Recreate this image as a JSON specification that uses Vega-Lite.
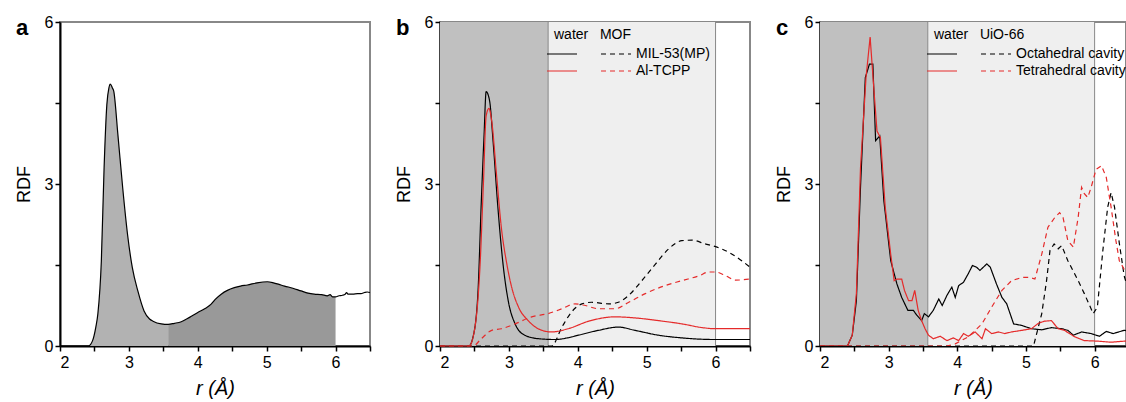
{
  "$schema": "https://vega.github.io/schema/vega-lite/v6.json",
  "padding": {"left": 14, "top": 13, "right": 0, "bottom": 0},
  "spacing": 20,
  "background": "white",
  "config": {
    "font": "Liberation Sans",
    "view": {"stroke": "#888888", "strokeWidth": 2},
    "axis": {"domainColor": "black", "domainWidth": 2, "tickColor": "black", "tickWidth": 1.5, "tickSize": 5, "labelFont": "Liberation Sans", "labelFontSize": 16, "labelColor": "black", "labelPadding": 2, "titleFont": "Liberation Sans", "titleFontWeight": "normal", "titleColor": "black", "grid": false, "zindex": 1},
    "axisY": {"titleFontSize": 18, "titlePadding": 11},
    "axisX": {"titleFontSize": 20, "titleFontStyle": "italic", "titlePadding": 8, "labelPadding": 3},
    "title": {"anchor": "start", "frame": "group", "fontSize": 22, "fontWeight": "bold", "font": "Liberation Sans", "color": "black", "offset": 0, "dx": -44, "dy": 30},
    "legend": {"symbolType": "M-2.8,0H3.2", "symbolSize": 100, "symbolStrokeWidth": 1.2, "labelOffset": 14, "labelFontSize": 14, "labelFont": "Liberation Sans", "labelColor": "black", "titleFontSize": 14, "titleFont": "Liberation Sans", "titleFontWeight": "normal", "titleColor": "black", "titlePadding": 5, "padding": 0, "columns": 2, "gridAlign": "each", "columnPadding": 16, "rowPadding": 3, "labelLimit": 300, "titleLimit": 300}
  },
  "resolve": {
    "scale": {"x": "independent", "y": "independent", "color": "independent", "strokeDash": "independent"},
    "legend": {"color": "independent", "strokeDash": "independent"}
  },
  "datasets": {
    "a": [
      {"r": 2.0, "g": 0}, {"r": 2.41, "g": 0}, {"r": 2.47, "g": 0.09}, {"r": 2.52, "g": 0.35}, {"r": 2.55, "g": 0.6}, {"r": 2.6, "g": 1.57}, {"r": 2.64, "g": 3.3}, {"r": 2.68, "g": 4.47}, {"r": 2.71, "g": 4.78}, {"r": 2.73, "g": 4.85}, {"r": 2.76, "g": 4.78}, {"r": 2.78, "g": 4.72}, {"r": 2.84, "g": 3.92}, {"r": 2.91, "g": 2.93}, {"r": 2.98, "g": 2.07}, {"r": 3.05, "g": 1.45}, {"r": 3.13, "g": 1.02}, {"r": 3.22, "g": 0.65}, {"r": 3.3, "g": 0.5}, {"r": 3.35, "g": 0.46}, {"r": 3.47, "g": 0.41}, {"r": 3.57, "g": 0.4}, {"r": 3.66, "g": 0.42}, {"r": 3.76, "g": 0.45}, {"r": 3.88, "g": 0.53}, {"r": 4.0, "g": 0.62}, {"r": 4.1, "g": 0.69}, {"r": 4.19, "g": 0.77}, {"r": 4.25, "g": 0.86}, {"r": 4.34, "g": 0.96}, {"r": 4.43, "g": 1.03}, {"r": 4.53, "g": 1.08}, {"r": 4.62, "g": 1.11}, {"r": 4.72, "g": 1.13}, {"r": 4.86, "g": 1.17}, {"r": 5.01, "g": 1.19}, {"r": 5.1, "g": 1.17}, {"r": 5.18, "g": 1.14}, {"r": 5.26, "g": 1.11}, {"r": 5.38, "g": 1.07}, {"r": 5.5, "g": 1.02}, {"r": 5.6, "g": 0.98}, {"r": 5.69, "g": 0.96}, {"r": 5.8, "g": 0.95}, {"r": 5.88, "g": 0.93}, {"r": 5.92, "g": 0.95}, {"r": 5.96, "g": 0.91}, {"r": 6.0, "g": 0.91}, {"r": 6.05, "g": 0.93}, {"r": 6.1, "g": 0.94}, {"r": 6.14, "g": 0.96}, {"r": 6.16, "g": 0.99}, {"r": 6.18, "g": 0.96}, {"r": 6.25, "g": 0.96}, {"r": 6.32, "g": 0.97}, {"r": 6.37, "g": 0.97}, {"r": 6.42, "g": 0.99}, {"r": 6.46, "g": 1.0}, {"r": 6.5, "g": 0.99}
    ],
    "bands": [
      {"zone": "inner", "r": 2, "r2": 3.57},
      {"zone": "outer", "r": 3.57, "r2": 6}
    ],
    "cuts": [{"r": 3.57}, {"r": 6}],
    "b": [
      {"k": "Mw", "r": 2.0, "g": 0}, {"k": "Mw", "r": 2.42, "g": 0}, {"k": "Mw", "r": 2.48, "g": 0.17}, {"k": "Mw", "r": 2.55, "g": 0.97}, {"k": "Mw", "r": 2.6, "g": 2.69}, {"k": "Mw", "r": 2.64, "g": 3.92}, {"k": "Mw", "r": 2.67, "g": 4.71}, {"k": "Mw", "r": 2.72, "g": 4.54}, {"k": "Mw", "r": 2.77, "g": 3.8}, {"k": "Mw", "r": 2.84, "g": 2.57}, {"k": "Mw", "r": 2.92, "g": 1.46}, {"k": "Mw", "r": 2.99, "g": 0.84}, {"k": "Mw", "r": 3.09, "g": 0.41}, {"k": "Mw", "r": 3.23, "g": 0.2}, {"k": "Mw", "r": 3.43, "g": 0.135}, {"k": "Mw", "r": 3.67, "g": 0.12}, {"k": "Mw", "r": 3.85, "g": 0.15}, {"k": "Mw", "r": 4.01, "g": 0.2}, {"k": "Mw", "r": 4.3, "g": 0.29}, {"k": "Mw", "r": 4.59, "g": 0.35}, {"k": "Mw", "r": 4.83, "g": 0.29}, {"k": "Mw", "r": 5.17, "g": 0.2}, {"k": "Mw", "r": 5.51, "g": 0.15}, {"k": "Mw", "r": 5.99, "g": 0.12}, {"k": "Mw", "r": 6.5, "g": 0.12},
      {"k": "Mm", "r": 2.0, "g": 0}, {"k": "Mm", "r": 3.62, "g": 0}, {"k": "Mm", "r": 3.77, "g": 0.35}, {"k": "Mm", "r": 3.91, "g": 0.63}, {"k": "Mm", "r": 4.06, "g": 0.78}, {"k": "Mm", "r": 4.2, "g": 0.81}, {"k": "Mm", "r": 4.45, "g": 0.78}, {"k": "Mm", "r": 4.59, "g": 0.81}, {"k": "Mm", "r": 4.74, "g": 0.94}, {"k": "Mm", "r": 4.93, "g": 1.21}, {"k": "Mm", "r": 5.13, "g": 1.52}, {"k": "Mm", "r": 5.32, "g": 1.8}, {"k": "Mm", "r": 5.51, "g": 1.95}, {"k": "Mm", "r": 5.66, "g": 1.96}, {"k": "Mm", "r": 5.85, "g": 1.89}, {"k": "Mm", "r": 6.0, "g": 1.84}, {"k": "Mm", "r": 6.24, "g": 1.7}, {"k": "Mm", "r": 6.5, "g": 1.46},
      {"k": "Aw", "r": 2.0, "g": 0}, {"k": "Aw", "r": 2.42, "g": 0}, {"k": "Aw", "r": 2.5, "g": 0.29}, {"k": "Aw", "r": 2.58, "g": 1.46}, {"k": "Aw", "r": 2.63, "g": 3.0}, {"k": "Aw", "r": 2.67, "g": 4.26}, {"k": "Aw", "r": 2.71, "g": 4.4}, {"k": "Aw", "r": 2.75, "g": 4.17}, {"k": "Aw", "r": 2.82, "g": 3.18}, {"k": "Aw", "r": 2.89, "g": 2.2}, {"k": "Aw", "r": 2.97, "g": 1.52}, {"k": "Aw", "r": 3.04, "g": 1.09}, {"k": "Aw", "r": 3.14, "g": 0.72}, {"k": "Aw", "r": 3.28, "g": 0.47}, {"k": "Aw", "r": 3.48, "g": 0.29}, {"k": "Aw", "r": 3.62, "g": 0.26}, {"k": "Aw", "r": 3.86, "g": 0.32}, {"k": "Aw", "r": 4.16, "g": 0.46}, {"k": "Aw", "r": 4.54, "g": 0.54}, {"k": "Aw", "r": 4.83, "g": 0.52}, {"k": "Aw", "r": 5.17, "g": 0.47}, {"k": "Aw", "r": 5.51, "g": 0.41}, {"k": "Aw", "r": 5.81, "g": 0.34}, {"k": "Aw", "r": 5.99, "g": 0.32}, {"k": "Aw", "r": 6.5, "g": 0.32},
      {"k": "Am", "r": 2.0, "g": 0}, {"k": "Am", "r": 2.48, "g": 0}, {"k": "Am", "r": 2.6, "g": 0.135}, {"k": "Am", "r": 2.75, "g": 0.29}, {"k": "Am", "r": 2.89, "g": 0.32}, {"k": "Am", "r": 3.09, "g": 0.41}, {"k": "Am", "r": 3.33, "g": 0.54}, {"k": "Am", "r": 3.57, "g": 0.6}, {"k": "Am", "r": 3.77, "g": 0.69}, {"k": "Am", "r": 3.96, "g": 0.78}, {"k": "Am", "r": 4.11, "g": 0.75}, {"k": "Am", "r": 4.3, "g": 0.69}, {"k": "Am", "r": 4.54, "g": 0.69}, {"k": "Am", "r": 4.74, "g": 0.81}, {"k": "Am", "r": 4.98, "g": 0.97}, {"k": "Am", "r": 5.27, "g": 1.12}, {"k": "Am", "r": 5.51, "g": 1.21}, {"k": "Am", "r": 5.76, "g": 1.3}, {"k": "Am", "r": 5.9, "g": 1.37}, {"k": "Am", "r": 6.0, "g": 1.37}, {"k": "Am", "r": 6.15, "g": 1.3}, {"k": "Am", "r": 6.29, "g": 1.22}, {"k": "Am", "r": 6.5, "g": 1.24}
    ],
    "c": [
      {"k": "Ow", "r": 2.0, "g": 0}, {"k": "Ow", "r": 2.4, "g": 0}, {"k": "Ow", "r": 2.47, "g": 0.2}, {"k": "Ow", "r": 2.53, "g": 0.84}, {"k": "Ow", "r": 2.59, "g": 2.94}, {"k": "Ow", "r": 2.66, "g": 4.97}, {"k": "Ow", "r": 2.72, "g": 5.22}, {"k": "Ow", "r": 2.77, "g": 5.22}, {"k": "Ow", "r": 2.81, "g": 3.8}, {"k": "Ow", "r": 2.83, "g": 3.83}, {"k": "Ow", "r": 2.87, "g": 3.89}, {"k": "Ow", "r": 2.93, "g": 2.69}, {"k": "Ow", "r": 3.03, "g": 1.58}, {"k": "Ow", "r": 3.12, "g": 1.15}, {"k": "Ow", "r": 3.19, "g": 0.9}, {"k": "Ow", "r": 3.28, "g": 0.66}, {"k": "Ow", "r": 3.36, "g": 0.66}, {"k": "Ow", "r": 3.41, "g": 0.57}, {"k": "Ow", "r": 3.48, "g": 0.47}, {"k": "Ow", "r": 3.52, "g": 0.6}, {"k": "Ow", "r": 3.58, "g": 0.54}, {"k": "Ow", "r": 3.65, "g": 0.66}, {"k": "Ow", "r": 3.73, "g": 0.87}, {"k": "Ow", "r": 3.78, "g": 0.75}, {"k": "Ow", "r": 3.85, "g": 0.94}, {"k": "Ow", "r": 3.92, "g": 1.09}, {"k": "Ow", "r": 3.97, "g": 0.9}, {"k": "Ow", "r": 4.02, "g": 1.12}, {"k": "Ow", "r": 4.09, "g": 1.18}, {"k": "Ow", "r": 4.16, "g": 1.34}, {"k": "Ow", "r": 4.22, "g": 1.49}, {"k": "Ow", "r": 4.28, "g": 1.46}, {"k": "Ow", "r": 4.33, "g": 1.4}, {"k": "Ow", "r": 4.43, "g": 1.52}, {"k": "Ow", "r": 4.48, "g": 1.46}, {"k": "Ow", "r": 4.57, "g": 1.15}, {"k": "Ow", "r": 4.65, "g": 0.9}, {"k": "Ow", "r": 4.72, "g": 0.78}, {"k": "Ow", "r": 4.82, "g": 0.41}, {"k": "Ow", "r": 4.94, "g": 0.38}, {"k": "Ow", "r": 5.08, "g": 0.32}, {"k": "Ow", "r": 5.23, "g": 0.3}, {"k": "Ow", "r": 5.37, "g": 0.34}, {"k": "Ow", "r": 5.52, "g": 0.32}, {"k": "Ow", "r": 5.61, "g": 0.29}, {"k": "Ow", "r": 5.69, "g": 0.2}, {"k": "Ow", "r": 5.81, "g": 0.26}, {"k": "Ow", "r": 5.95, "g": 0.23}, {"k": "Ow", "r": 6.07, "g": 0.18}, {"k": "Ow", "r": 6.17, "g": 0.27}, {"k": "Ow", "r": 6.27, "g": 0.23}, {"k": "Ow", "r": 6.43, "g": 0.29}, {"k": "Ow", "r": 6.5, "g": 0.28},
      {"k": "Om", "r": 2.0, "g": 0}, {"k": "Om", "r": 5.11, "g": 0}, {"k": "Om", "r": 5.15, "g": 0.2}, {"k": "Om", "r": 5.23, "g": 0.6}, {"k": "Om", "r": 5.3, "g": 1.21}, {"k": "Om", "r": 5.35, "g": 1.77}, {"k": "Om", "r": 5.41, "g": 1.89}, {"k": "Om", "r": 5.47, "g": 1.8}, {"k": "Om", "r": 5.52, "g": 1.86}, {"k": "Om", "r": 5.61, "g": 1.58}, {"k": "Om", "r": 5.76, "g": 1.21}, {"k": "Om", "r": 5.85, "g": 0.97}, {"k": "Om", "r": 5.98, "g": 0.6}, {"k": "Om", "r": 6.04, "g": 0.72}, {"k": "Om", "r": 6.12, "g": 1.77}, {"k": "Om", "r": 6.19, "g": 2.57}, {"k": "Om", "r": 6.24, "g": 2.84}, {"k": "Om", "r": 6.29, "g": 2.57}, {"k": "Om", "r": 6.36, "g": 1.9}, {"k": "Om", "r": 6.43, "g": 1.3}, {"k": "Om", "r": 6.5, "g": 1.0},
      {"k": "Tw", "r": 2.0, "g": 0}, {"k": "Tw", "r": 2.4, "g": 0}, {"k": "Tw", "r": 2.47, "g": 0.2}, {"k": "Tw", "r": 2.53, "g": 0.97}, {"k": "Tw", "r": 2.59, "g": 3.3}, {"k": "Tw", "r": 2.67, "g": 4.97}, {"k": "Tw", "r": 2.73, "g": 5.72}, {"k": "Tw", "r": 2.78, "g": 4.84}, {"k": "Tw", "r": 2.83, "g": 3.98}, {"k": "Tw", "r": 2.88, "g": 3.86}, {"k": "Tw", "r": 2.95, "g": 2.57}, {"k": "Tw", "r": 3.03, "g": 1.7}, {"k": "Tw", "r": 3.08, "g": 1.21}, {"k": "Tw", "r": 3.12, "g": 1.24}, {"k": "Tw", "r": 3.19, "g": 1.24}, {"k": "Tw", "r": 3.23, "g": 1.03}, {"k": "Tw", "r": 3.29, "g": 0.84}, {"k": "Tw", "r": 3.34, "g": 0.84}, {"k": "Tw", "r": 3.38, "g": 1.03}, {"k": "Tw", "r": 3.43, "g": 0.66}, {"k": "Tw", "r": 3.48, "g": 0.47}, {"k": "Tw", "r": 3.53, "g": 0.32}, {"k": "Tw", "r": 3.58, "g": 0.2}, {"k": "Tw", "r": 3.65, "g": 0.135}, {"k": "Tw", "r": 3.75, "g": 0.18}, {"k": "Tw", "r": 3.85, "g": 0.1}, {"k": "Tw", "r": 3.94, "g": 0.15}, {"k": "Tw", "r": 4.02, "g": 0.1}, {"k": "Tw", "r": 4.09, "g": 0.23}, {"k": "Tw", "r": 4.16, "g": 0.18}, {"k": "Tw", "r": 4.26, "g": 0.26}, {"k": "Tw", "r": 4.36, "g": 0.135}, {"k": "Tw", "r": 4.41, "g": 0.32}, {"k": "Tw", "r": 4.5, "g": 0.23}, {"k": "Tw", "r": 4.6, "g": 0.26}, {"k": "Tw", "r": 4.69, "g": 0.23}, {"k": "Tw", "r": 4.79, "g": 0.26}, {"k": "Tw", "r": 4.94, "g": 0.29}, {"k": "Tw", "r": 5.08, "g": 0.32}, {"k": "Tw", "r": 5.18, "g": 0.42}, {"k": "Tw", "r": 5.27, "g": 0.46}, {"k": "Tw", "r": 5.37, "g": 0.47}, {"k": "Tw", "r": 5.47, "g": 0.32}, {"k": "Tw", "r": 5.56, "g": 0.29}, {"k": "Tw", "r": 5.71, "g": 0.17}, {"k": "Tw", "r": 5.85, "g": 0.1}, {"k": "Tw", "r": 6.05, "g": 0.09}, {"k": "Tw", "r": 6.24, "g": 0.07}, {"k": "Tw", "r": 6.43, "g": 0.09}, {"k": "Tw", "r": 6.5, "g": 0.09},
      {"k": "Tm", "r": 2.0, "g": 0}, {"k": "Tm", "r": 3.85, "g": 0}, {"k": "Tm", "r": 3.97, "g": 0.04}, {"k": "Tm", "r": 4.16, "g": 0.17}, {"k": "Tm", "r": 4.36, "g": 0.41}, {"k": "Tm", "r": 4.5, "g": 0.72}, {"k": "Tm", "r": 4.65, "g": 1.03}, {"k": "Tm", "r": 4.79, "g": 1.21}, {"k": "Tm", "r": 4.94, "g": 1.27}, {"k": "Tm", "r": 5.06, "g": 1.27}, {"k": "Tm", "r": 5.13, "g": 1.24}, {"k": "Tm", "r": 5.23, "g": 1.7}, {"k": "Tm", "r": 5.32, "g": 2.2}, {"k": "Tm", "r": 5.42, "g": 2.38}, {"k": "Tm", "r": 5.49, "g": 2.47}, {"k": "Tm", "r": 5.54, "g": 2.38}, {"k": "Tm", "r": 5.61, "g": 1.95}, {"k": "Tm", "r": 5.69, "g": 1.83}, {"k": "Tm", "r": 5.76, "g": 2.38}, {"k": "Tm", "r": 5.81, "g": 2.94}, {"k": "Tm", "r": 5.85, "g": 2.82}, {"k": "Tm", "r": 5.9, "g": 2.75}, {"k": "Tm", "r": 5.95, "g": 2.94}, {"k": "Tm", "r": 6.02, "g": 3.27}, {"k": "Tm", "r": 6.1, "g": 3.34}, {"k": "Tm", "r": 6.17, "g": 3.12}, {"k": "Tm", "r": 6.24, "g": 2.57}, {"k": "Tm", "r": 6.31, "g": 1.95}, {"k": "Tm", "r": 6.36, "g": 1.58}, {"k": "Tm", "r": 6.43, "g": 1.42}, {"k": "Tm", "r": 6.5, "g": 1.4}
    ]
  },
  "hconcat": [
    {
      "title": "a",
      "width": 310,
      "height": 324,
      "encoding": {
        "x": {"field": "r", "type": "quantitative", "scale": {"domain": [2, 6.5], "nice": false, "zero": false}, "axis": {"values": [2, 2.5, 3, 3.5, 4, 4.5, 5, 5.5, 6, 6.5], "labelExpr": "datum.value % 1 == 0 ? format(datum.value, 'd') : ''", "title": "r (Å)"}}
      },
      "layer": [
        {"data": {"name": "a"}, "transform": [{"filter": "datum.r <= 3.57"}], "mark": {"type": "area", "color": "#b2b2b2", "interpolate": "monotone"},
         "encoding": {"y": {"field": "g", "type": "quantitative", "scale": {"domain": [0, 6], "nice": false}, "axis": {"values": [0, 1.5, 3, 4.5, 6], "labelExpr": "datum.value % 3 == 0 ? datum.label : ''", "title": "RDF"}}}},
        {"data": {"name": "a"}, "transform": [{"filter": "datum.r >= 3.57 && datum.r <= 6"}], "mark": {"type": "area", "color": "#999999", "interpolate": "monotone"},
         "encoding": {"y": {"field": "g", "type": "quantitative", "scale": {"domain": [0, 6], "nice": false}, "axis": {"values": [0, 1.5, 3, 4.5, 6], "labelExpr": "datum.value % 3 == 0 ? datum.label : ''", "title": "RDF"}}}},
        {"data": {"name": "a"}, "mark": {"type": "line", "color": "black", "strokeWidth": 1.2, "interpolate": "monotone"},
         "encoding": {"y": {"field": "g", "type": "quantitative", "scale": {"domain": [0, 6], "nice": false}, "axis": {"values": [0, 1.5, 3, 4.5, 6], "labelExpr": "datum.value % 3 == 0 ? datum.label : ''", "title": "RDF"}}}}
      ]
    },
    {
      "title": "b",
      "width": 310,
      "height": 324,
      "encoding": {
        "x": {"field": "r", "type": "quantitative", "scale": {"domain": [2, 6.5], "nice": false, "zero": false}, "axis": {"values": [2, 2.5, 3, 3.5, 4, 4.5, 5, 5.5, 6, 6.5], "labelExpr": "datum.value % 1 == 0 ? format(datum.value, 'd') : ''", "title": "r (Å)"}}
      },
      "layer": [
        {"data": {"name": "bands"}, "transform": [{"filter": "datum.zone == 'inner'"}], "mark": {"type": "rect", "color": "#c0c0c0"}, "encoding": {"x2": {"field": "r2"}}},
        {"data": {"name": "bands"}, "transform": [{"filter": "datum.zone == 'outer'"}], "mark": {"type": "rect", "color": "#efefef"}, "encoding": {"x2": {"field": "r2"}}},
        {"data": {"name": "cuts"}, "mark": {"type": "rule", "color": "#888888", "strokeWidth": 1}, "encoding": {}},
        {"data": {"name": "b"}, "mark": {"type": "line", "strokeWidth": 1.2, "interpolate": "monotone"},
         "encoding": {
           "y": {"field": "g", "type": "quantitative", "scale": {"domain": [0, 6], "nice": false}, "axis": {"values": [0, 1.5, 3, 4.5, 6], "labelExpr": "datum.value % 3 == 0 ? datum.label : ''", "title": "RDF"}},
           "color": {"field": "k", "type": "nominal", "scale": {"domain": ["Mw", "Aw", "Mm", "Am"], "range": ["#000000", "#e52a2a", "#000000", "#e52a2a"]},
             "legend": {"orient": "none", "legendX": 114, "legendY": 6, "title": "water\u00a0\u00a0\u00a0MOF", "labelExpr": "datum.value == 'Mm' ? 'MIL-53(MP)' : datum.value == 'Am' ? 'Al-TCPP' : ''"}},
           "strokeDash": {"field": "k", "type": "nominal", "scale": {"domain": ["Mw", "Aw", "Mm", "Am"], "range": [[1, 0], [1, 0], [5, 4], [5, 4]]},
             "legend": {"orient": "none", "legendX": 114, "legendY": 6, "title": "water\u00a0\u00a0\u00a0MOF", "labelExpr": "datum.value == 'Mm' ? 'MIL-53(MP)' : datum.value == 'Am' ? 'Al-TCPP' : ''"}}
         }}
      ]
    },
    {
      "title": "c",
      "width": 306,
      "height": 324,
      "encoding": {
        "x": {"field": "r", "type": "quantitative", "scale": {"domain": [2, 6.457], "nice": false, "zero": false}, "axis": {"values": [2, 2.5, 3, 3.5, 4, 4.5, 5, 5.5, 6], "labelExpr": "datum.value % 1 == 0 ? format(datum.value, 'd') : ''", "title": "r (Å)"}}
      },
      "layer": [
        {"data": {"name": "bands"}, "transform": [{"filter": "datum.zone == 'inner'"}], "mark": {"type": "rect", "color": "#c0c0c0"}, "encoding": {"x2": {"field": "r2"}}},
        {"data": {"name": "bands"}, "transform": [{"filter": "datum.zone == 'outer'"}], "mark": {"type": "rect", "color": "#efefef"}, "encoding": {"x2": {"field": "r2"}}},
        {"data": {"name": "cuts"}, "mark": {"type": "rule", "color": "#888888", "strokeWidth": 1}, "encoding": {}},
        {"data": {"name": "c"}, "mark": {"type": "line", "strokeWidth": 1.2, "clip": true},
         "encoding": {
           "y": {"field": "g", "type": "quantitative", "scale": {"domain": [0, 6], "nice": false}, "axis": {"values": [0, 1.5, 3, 4.5, 6], "labelExpr": "datum.value % 3 == 0 ? datum.label : ''", "title": "RDF"}},
           "color": {"field": "k", "type": "nominal", "scale": {"domain": ["Ow", "Tw", "Om", "Tm"], "range": ["#000000", "#e52a2a", "#000000", "#e52a2a"]},
             "legend": {"orient": "none", "legendX": 114, "legendY": 6, "title": "water\u00a0\u00a0\u00a0UiO-66", "labelExpr": "datum.value == 'Om' ? 'Octahedral cavity' : datum.value == 'Tm' ? 'Tetrahedral cavity' : ''"}},
           "strokeDash": {"field": "k", "type": "nominal", "scale": {"domain": ["Ow", "Tw", "Om", "Tm"], "range": [[1, 0], [1, 0], [5, 4], [5, 4]]},
             "legend": {"orient": "none", "legendX": 114, "legendY": 6, "title": "water\u00a0\u00a0\u00a0UiO-66", "labelExpr": "datum.value == 'Om' ? 'Octahedral cavity' : datum.value == 'Tm' ? 'Tetrahedral cavity' : ''"}}
         }}
      ]
    }
  ]
}
